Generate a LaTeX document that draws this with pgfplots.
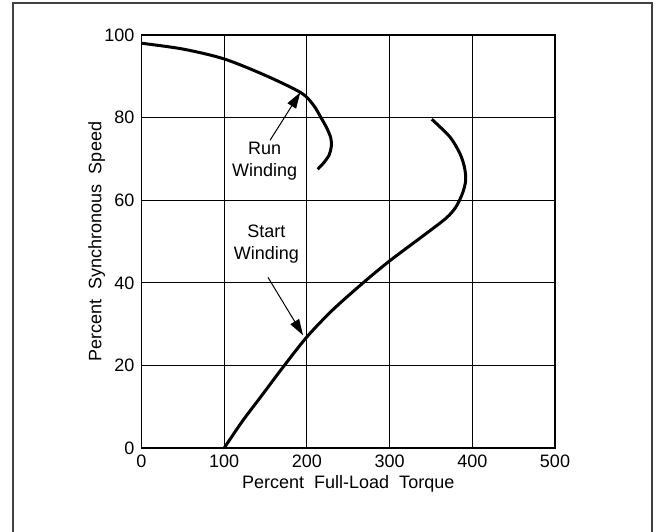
\documentclass[border=0pt]{standalone}
\usepackage{fontspec}
\setmainfont{Liberation Sans}
\usepackage{pgfplots}
\pgfplotsset{compat=1.18}
\usetikzlibrary{arrows.meta}
\begin{document}
\begin{tikzpicture}
\path[use as bounding box] (-70.75pt,-41.5pt) rectangle (257.75pt,224pt);
\draw[line width=1pt, black!75] (-64.25pt,-50pt) -- (-64.25pt,222.5pt) -- (255.25pt,222.5pt) -- (255.25pt,-50pt);
\begin{axis}[
  scale only axis,
  width=206.75pt, height=206.5pt,
  xmin=0, xmax=500, ymin=0, ymax=100,
  xtick={0,100,...,500}, ytick={0,20,...,100},
  grid=major,
  major grid style={line width=0.5pt, black},
  major tick length=0pt,
  axis line style={line width=0.8pt},
  tick label style={font=\fontsize{9}{11}\selectfont},
  /pgf/number format/assume math mode=true,
  xlabel={Percent\ \ Full-Load\ \ Torque},
  ylabel={Percent\ \ Synchronous\ \ Speed},
  label style={font=\fontsize{9}{11}\selectfont},
  xlabel style={at={(axis description cs:0.5,0)}, anchor=center, yshift=-18pt},
  ylabel style={at={(axis description cs:0,0.5)}, anchor=center, yshift=22.4pt},
  clip=false,
]
% Run winding
\addplot[black, line width=1.5pt, smooth] coordinates {
(0,98) (50,96.6) (100,94.2) (150,90.2) (193,86) (208,83) (217,80) (224,77.5) (229,75) (229.5,73) (227,71) (221,69.2) (213,67.5)
};
% Start winding
\addplot[black, line width=1.5pt, smooth] coordinates {
(100,0) (122,6.5) (145,12.6) (172,19.8) (200,26.9) (231,33.4) (268,40) (300,45.3) (340,51.3) (368,55.6) (380,58.3) (388,61.6) (392,64.8) (390.5,68) (385,71.3) (373,75.3) (351,79.6)
};
\draw[line width=0.5pt, -{Triangle[length=8pt,width=5pt]}] (axis cs:155.4,74.5) -- (axis cs:192,86.1);
\draw[line width=0.5pt, -{Triangle[length=8pt,width=5pt]}] (axis cs:153,41.3) -- (axis cs:195.3,27.3);
\node[align=center, font=\fontsize{9}{11}\selectfont] at (axis cs:149,69.5) {Run\\Winding};
\node[align=center, font=\fontsize{9}{11}\selectfont] at (axis cs:151,49.4) {Start\\Winding};
\end{axis}
\end{tikzpicture}
\end{document}
